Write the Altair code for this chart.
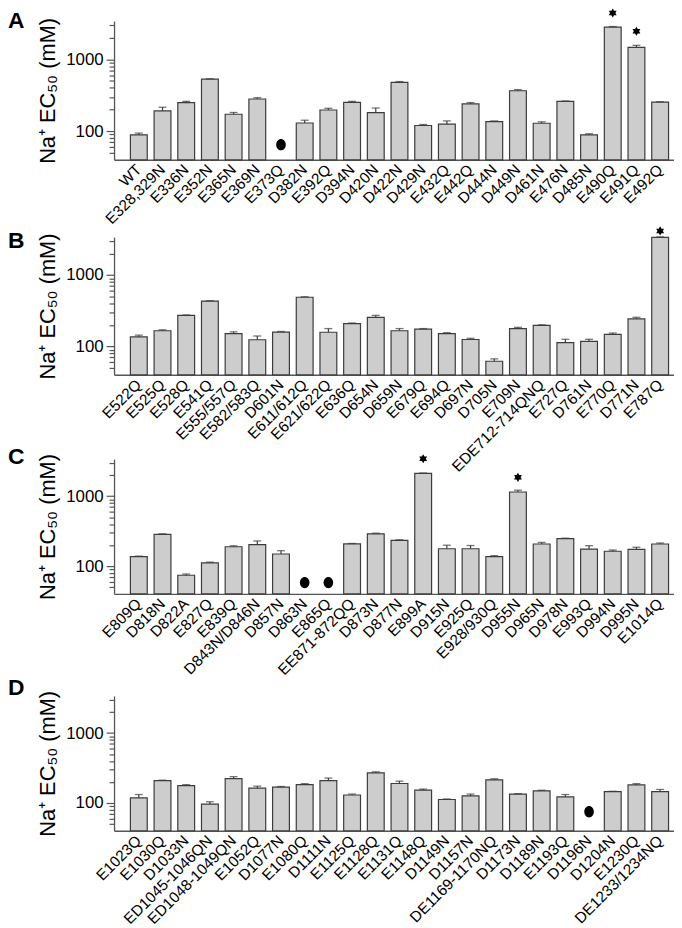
import altair as alt
import pandas as pd

# ---------------- data ----------------
cats_A = ["WT", "E328,329N", "E336N", "E352N", "E365N", "E369N", "E373Q", "D382N",
          "E392Q", "D394N", "D420N", "D422N", "D429N", "E432Q", "E442Q", "D444N",
          "D449N", "D461N", "E476N", "D485N", "E490Q", "E491Q", "E492Q"]
vals_A = [89, 191, 249, 529, 172, 280, None, 130, 197, 251, 181, 478, 120, 125, 239, 136,
          365, 129, 260, 89, 2800, 1466, 254]
errs_A = [94, 215, 260, 535, 182, 292, None, 142, 208, 260, 210, 490, 124, 139, 250, 139,
          378, 135, 263, 92, 2850, 1560, 257]
star_cats_A = ["E490Q", "E491Q"]
star_y_A = [4400, 2450]
dot_cats_A = ["E373Q"]
dot_y_A = [65]

cats_B = ["E522Q", "E525Q", "E528Q", "E541Q", "E555/557Q", "E582/583Q", "D601N",
          "E611/612Q", "E621/622Q", "E636Q", "D654N", "D659N", "E679Q", "E694Q", "D697N",
          "D705N", "E709N", "EDE712-714QNQ", "E727Q", "D761N", "E770Q", "D771N", "E787Q"]
vals_B = [136, 166, 272, 432, 151, 124, 159, 489, 158, 209, 255, 166, 175, 151, 125,
          62, 178, 197, 113, 118, 148, 244, 3360]
errs_B = [144, 171, 276, 437, 160, 140, 162, 497, 178, 213, 272, 178, 178, 156, 130,
          67, 185, 201, 126, 126, 154, 256, 3420]
star_cats_B = ["E787Q"]
star_y_B = [4150]
dot_cats_B = []
dot_y_B = []

cats_C = ["E809Q", "D818N", "D822A", "E827Q", "E839Q", "D843N/D846N", "D857N", "D863N",
          "E865Q", "EE871-872QQ", "D873N", "D877N", "E899A", "D915N", "E925Q", "E928/930Q",
          "D955N", "D965N", "D978N", "E993Q", "D994N", "D995N", "E1014Q"]
vals_C = [137, 284, 74, 111, 189, 203, 149, None, None, 208, 290, 234, 2120, 177, 177, 137,
          1150, 207, 247, 175, 163, 173, 207]
errs_C = [139, 290, 77, 114, 195, 229, 166, None, None, 211, 296, 238, 2150, 199, 197, 141,
          1220, 218, 251, 196, 170, 186, 214]
star_cats_C = ["E899A", "D955N"]
star_y_C = [3440, 1865]
dot_cats_C = ["D863N", "E865Q"]
dot_y_C = [58, 58]

cats_D = ["E1023Q", "E1030Q", "D1033N", "ED1045-1046QN", "ED1048-1049QN", "E1052Q",
          "D1077N", "E1080Q", "D1111N", "E1125Q", "E1128Q", "E1131Q", "E1148Q", "D1149N",
          "D1157N", "DE1169-1170NQ", "D1173N", "D1189N", "E1193Q", "D1196N", "D1204N",
          "E1230Q", "DE1233/1234NQ"]
vals_D = [118, 209, 177, 96, 223, 163, 168, 183, 209, 130, 270, 190, 153, 112, 126, 214,
          134, 149, 122, None, 145, 181, 145]
errs_D = [132, 212, 183, 104, 238, 174, 172, 189, 227, 134, 279, 205, 158, 114, 134, 222,
          136, 152, 132, None, 147, 189, 156]
star_cats_D = []
star_y_D = []
dot_cats_D = ["D1196N"]
dot_y_D = [75]

y_ticks = [50, 60, 70, 80, 90, 100, 200, 300, 400, 500, 600, 700, 800, 900, 1000, 2000, 3000]
y_domain = [40, 3400]

# ---------------- style ----------------
FONT = "Liberation Sans"
STAR = "M0,-1L0.866,0.5L-0.866,0.5Z M0,1L-0.866,-0.5L0.866,-0.5Z"
DOT = "M0,-1.1A0.92,1.1 0 1 1 0,1.1A0.92,1.1 0 1 1 0,-1.1Z"
W = 565


def panel(letter, cats, vals, errs, star_cats, star_y, dot_cats, dot_y,
          h, letter_y, top_gap=0):
    df = pd.DataFrame({"cat": cats, "val": vals, "err": errs})
    df_bar = df.dropna()
    xsc = alt.Scale(domain=cats, paddingInner=0.29, paddingOuter=0.46, align=0.75)
    ysc = alt.Scale(type="log", domain=y_domain, nice=False, range=[h + top_gap, top_gap])
    xax = alt.Axis(labelAngle=-45, labelAlign="right", labelBaseline="middle",
                   labelFontSize=15.5, labelFont=FONT, labelColor="black", ticks=False,
                   domainColor="#555555", domainWidth=1.5, labelPadding=7,
                   labelOverlap=False, labelBound=False, labelLimit=0)
    yax = alt.Axis(values=y_ticks,
                   labelExpr="(datum.value == 100 || datum.value == 1000) ? datum.value : ''",
                   tickSize={"condition": {"test": "datum.value == 100 || datum.value == 1000",
                                           "value": 8}, "value": 5},
                   labelFontSize=17, labelFont=FONT, labelColor="black", labelPadding=3,
                   titleFontSize=22, titleFont=FONT, titleFontWeight="normal",
                   titleColor="black", titlePadding=6,
                   domainColor="#555555", domainWidth=1.3, tickColor="#555555",
                   tickWidth=1.2, grid=False)
    x = alt.X("cat:N", scale=xsc, axis=xax, title=None)

    bars = alt.Chart(df_bar).mark_bar(fill="#cdcdcd", stroke="#3c3c3c",
                                      strokeWidth=1.2).encode(
        x=x,
        y=alt.Y("val:Q", scale=ysc, axis=yax, title="Na\u207a  EC\u2085\u2080 (mM)"),
        y2=alt.datum(40),
    )
    err = alt.Chart(df_bar).mark_rule(color="#3c3c3c", strokeWidth=1.2).encode(
        x=alt.X("cat:N"), y=alt.Y("val:Q"), y2=alt.Y2("err:Q"))
    cap = alt.Chart(df_bar).mark_tick(color="#3c3c3c", thickness=1.3, size=8).encode(
        x=alt.X("cat:N"), y=alt.Y("err:Q"))
    tag = alt.Chart(pd.DataFrame({"t": [letter]})).mark_text(
        align="left", baseline="top", fontSize=23, fontWeight="bold", font=FONT,
        color="black").encode(text="t:N", x=alt.value(-107), y=alt.value(letter_y))
    layers = [bars, err, cap, tag]
    if star_cats:
        sdf = pd.DataFrame({"cat": star_cats, "y": star_y})
        layers.append(alt.Chart(sdf).mark_point(shape=STAR, filled=True, color="black",
                                                size=85, opacity=1, strokeWidth=0).encode(
            x=alt.X("cat:N"), y=alt.Y("y:Q")))
    if dot_cats:
        ddf = pd.DataFrame({"cat": dot_cats, "y": dot_y})
        layers.append(alt.Chart(ddf).mark_point(shape=DOT, filled=True, color="black",
                                                size=110, opacity=1, strokeWidth=0).encode(
            x=alt.X("cat:N"), y=alt.Y("y:Q")))
    return alt.layer(*layers).properties(width=W, height=h + top_gap)


pA = panel("A", cats_A, vals_A, errs_A, star_cats_A, star_y_A, dot_cats_A, dot_y_A,
           140, -10.5)
pB = panel("B", cats_B, vals_B, errs_B, star_cats_B, star_y_B, dot_cats_B, dot_y_B,
           139, -7)
pC = panel("C", cats_C, vals_C, errs_C, star_cats_C, star_y_C, dot_cats_C, dot_y_C,
           136, -6.5, top_gap=7)
pD = panel("D", cats_D, vals_D, errs_D, star_cats_D, star_y_D, dot_cats_D, dot_y_D,
           136, 6.5, top_gap=25)

chart = alt.vconcat(pA, pB, pC, pD, spacing=78, bounds="flush").properties(
    padding={"top": -4, "left": 0, "right": 0, "bottom": 0}
).configure_view(stroke=None)

chart.save("out.html", embed_options={"renderer": "svg", "actions": False})
